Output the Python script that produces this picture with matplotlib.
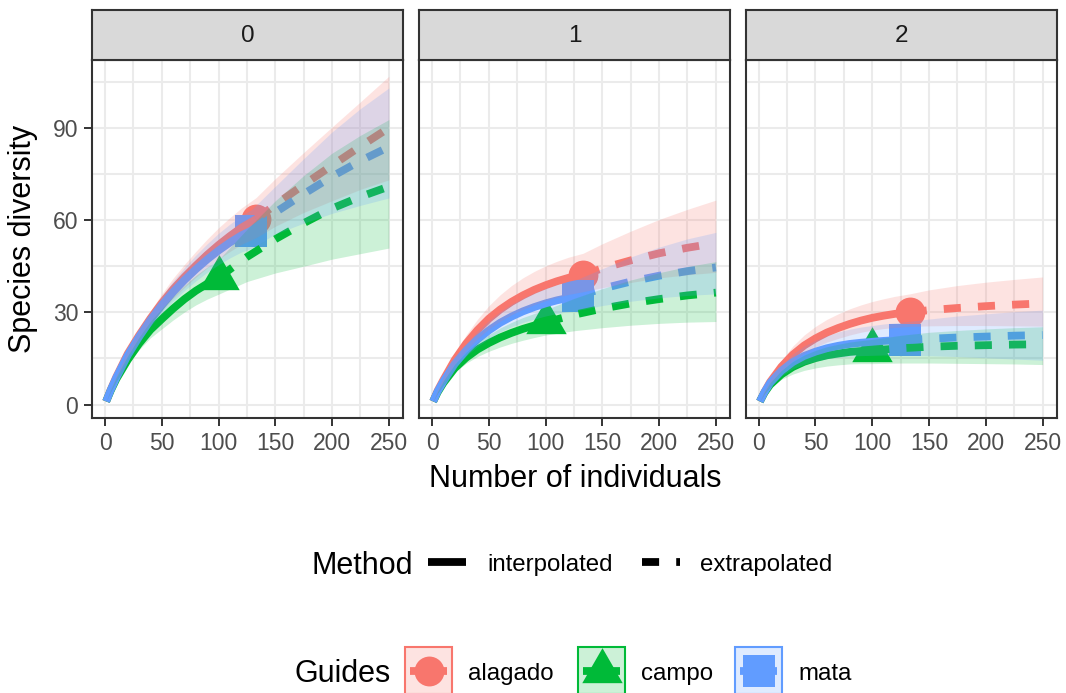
import matplotlib.pyplot as plt
from matplotlib.lines import Line2D
from matplotlib.patches import Rectangle

plt.rcParams['font.family'] = ['Liberation Sans', 'DejaVu Sans']

# ---------------------------------------------------------
# data (sample size m, diversity, 95% band)
# ---------------------------------------------------------

sites = ['alagado', 'campo', 'mata']
orders = ['0', '1', '2']

alagado_n = 133
campo_n = 100
mata_n = 129

alagado_m = [1, 5, 10, 20, 30, 40, 50, 60, 70, 80, 90, 100, 110, 120, 133, 150, 175, 200, 225, 250]
mata_m = [1, 5, 10, 20, 30, 40, 50, 60, 70, 80, 90, 100, 110, 120, 129, 150, 175, 200, 225, 250]
campo_m = [1, 5, 10, 20, 30, 40, 50, 60, 70, 80, 90, 100, 125, 150, 175, 200, 225, 250]

# order q = 0
alagado_q0 = [1, 4.8, 9, 16.5, 22.5, 28, 33, 37.5, 41.5, 45.2, 48.7, 51.9, 54.8, 57.5, 60.3, 65, 71.5, 77.8, 84, 90]
alagado_q0_lo = [1, 4.6, 8.5, 15.5, 21, 26, 30.5, 34.5, 38.1, 41.4, 44.5, 47.3, 49.8, 52.1, 54.3, 58, 62.5, 66.3, 70, 73.1]
alagado_q0_hi = [1, 5, 9.5, 17.7, 24.3, 30.4, 36, 41.1, 45.6, 49.8, 53.8, 57.5, 60.8, 63.9, 67.3, 73.5, 82, 90.3, 98.5, 106.8]
mata_q0 = [1, 4.7, 8.8, 16, 22, 27.5, 32.3, 36.6, 40.5, 44, 47.2, 50.1, 52.7, 55, 56.6, 62.5, 68.5, 74.2, 79.3, 83.8]
mata_q0_lo = [1, 4.5, 8.3, 15, 20.5, 25.5, 29.8, 33.6, 37.1, 40.2, 43, 45.5, 47.7, 49.6, 50.8, 55.5, 59, 62.2, 64.8, 67.2]
mata_q0_hi = [1, 4.9, 9.3, 17.2, 23.8, 29.9, 35.3, 40.2, 44.6, 48.6, 52.3, 55.7, 58.7, 61.4, 63.4, 71, 80, 88.7, 96.3, 103]
campo_q0 = [1, 4.5, 8.3, 14.5, 19.8, 24.3, 27.8, 31.2, 34.3, 37, 39.3, 41.3, 48, 53.8, 59, 63.8, 67.6, 70.9]
campo_q0_lo = [1, 4.2, 7.6, 13.2, 17.8, 21.7, 24.6, 27.5, 30.1, 32.4, 34.3, 35.9, 40, 42.8, 45, 47.3, 49.1, 50.9]
campo_q0_hi = [1, 4.8, 9, 15.9, 21.9, 27.1, 31.2, 35.2, 38.8, 42, 44.7, 47.1, 57, 66.3, 74.5, 81.8, 87.6, 92.7]

# order q = 1
alagado_q1 = [1, 4.5, 8, 14.5, 19.8, 24.2, 27.9, 30.9, 33.4, 35.5, 37.3, 38.8, 40.1, 41.2, 42.2, 44.3, 46.9, 49.2, 51.0, 52.5]
alagado_q1_lo = [1, 4.1, 7.2, 13, 17.6, 21.4, 24.6, 27.1, 29.2, 31, 32.5, 33.8, 34.9, 35.8, 36.7, 38, 39.7, 41.2, 42.2, 43]
alagado_q1_hi = [1, 5, 9, 16.5, 22.6, 27.7, 32.1, 35.7, 38.7, 41.2, 43.3, 45.1, 46.6, 47.9, 49.2, 52.3, 56.4, 60.2, 63.5, 66.5]
mata_q1 = [1, 4.3, 7.5, 13.2, 17.6, 21.2, 24.1, 26.6, 28.6, 30.3, 31.7, 32.9, 33.9, 34.7, 35.4, 37.7, 40, 41.9, 43.4, 44.6]
mata_q1_lo = [1, 4, 6.8, 11.9, 15.8, 18.9, 21.4, 23.6, 25.3, 26.7, 27.8, 28.8, 29.6, 30.2, 30.7, 32.2, 33.6, 34.7, 35.5, 36]
mata_q1_hi = [1, 4.7, 8.3, 14.7, 19.7, 23.9, 27.3, 30.2, 32.6, 34.6, 36.3, 37.8, 39, 40, 40.9, 44.2, 48, 51.2, 53.9, 56]
campo_q1 = [1, 4, 7, 11.8, 15.2, 17.9, 20, 21.8, 23.3, 24.6, 25.7, 26.7, 29.2, 31.2, 32.9, 34.3, 35.5, 36.4]
campo_q1_lo = [1, 3.7, 6.3, 10.5, 13.4, 15.6, 17.3, 18.7, 19.9, 20.9, 21.8, 22.6, 24, 25, 25.8, 26.4, 26.8, 27]
campo_q1_hi = [1, 4.3, 7.7, 13.1, 17, 20.2, 22.7, 24.9, 26.7, 28.3, 29.6, 30.8, 34.5, 37.7, 40.5, 42.9, 44.9, 46.5]

# order q = 2
alagado_q2 = [1, 4, 7.3, 12.3, 16.2, 19.2, 21.5, 23.4, 24.9, 26.2, 27.3, 28.2, 28.9, 29.5, 30.0, 30.7, 31.4, 32.0, 32.5, 32.9]
alagado_q2_lo = [1, 3.6, 6.5, 10.8, 14.2, 16.8, 18.7, 20.3, 21.5, 22.6, 23.5, 24.2, 24.7, 25.1, 25.4, 25.6, 25.7, 25.7, 25.6, 25.5]
alagado_q2_hi = [1, 4.5, 8.3, 14.3, 19, 22.6, 25.4, 27.7, 29.5, 31.1, 32.4, 33.5, 34.4, 35.2, 36, 37.3, 38.7, 39.8, 40.7, 41.5]
mata_q2 = [1, 4, 7, 11, 13.8, 15.8, 17.2, 18.3, 19.1, 19.7, 20.1, 20.4, 20.7, 20.9, 21.0, 21.4, 21.8, 22.1, 22.4, 22.6]
mata_q2_lo = [1, 3.6, 6.1, 9.4, 11.6, 13.1, 14.1, 14.9, 15.4, 15.7, 15.9, 16, 16.1, 16.1, 16, 15.9, 15.6, 15.2, 14.8, 14.4]
mata_q2_hi = [1, 4.4, 7.9, 12.8, 16.4, 19, 20.9, 22.4, 23.6, 24.5, 25.2, 25.7, 26.2, 26.6, 26.9, 27.8, 28.8, 29.5, 30.2, 30.7]
campo_q2 = [1, 3.8, 6.4, 9.8, 12.2, 13.9, 15.1, 16, 16.6, 17.1, 17.4, 17.6, 18.3, 18.8, 19.1, 19.3, 19.5, 19.6]
campo_q2_lo = [1, 3.5, 5.6, 8.2, 9.9, 11.1, 11.9, 12.5, 12.9, 13.2, 13.3, 13.3, 13.5, 13.5, 13.4, 13.3, 13.2, 13.0]
campo_q2_hi = [1, 4.1, 7.1, 11.1, 14, 16.1, 17.6, 18.8, 19.6, 20.3, 20.8, 21.2, 22.5, 23.5, 24.1, 24.6, 25, 25.3]

x_ticks = [0, 50, 100, 150, 200, 250]
y_ticks = [0, 30, 60, 90]

# ---------------------------------------------------------
# lookup tables
# ---------------------------------------------------------

size_m = {'alagado': alagado_m, 'campo': campo_m, 'mata': mata_m}
n_obs = {'alagado': alagado_n, 'campo': campo_n, 'mata': mata_n}
est = {'alagado': [alagado_q0, alagado_q1, alagado_q2],
       'campo': [campo_q0, campo_q1, campo_q2],
       'mata': [mata_q0, mata_q1, mata_q2]}
lo = {'alagado': [alagado_q0_lo, alagado_q1_lo, alagado_q2_lo],
      'campo': [campo_q0_lo, campo_q1_lo, campo_q2_lo],
      'mata': [mata_q0_lo, mata_q1_lo, mata_q2_lo]}
hi = {'alagado': [alagado_q0_hi, alagado_q1_hi, alagado_q2_hi],
      'campo': [campo_q0_hi, campo_q1_hi, campo_q2_hi],
      'mata': [mata_q0_hi, mata_q1_hi, mata_q2_hi]}

colors = {'alagado': '#F8766D', 'campo': '#00BA38', 'mata': '#619CFF'}
tri = [(0, 1.555), (1.347, -0.778), (-1.347, -0.778), (0, 1.555)]
marks = {'alagado': ('o', 21.5), 'campo': (tri, 33.6), 'mata': ('s', 23)}

LW = 5.6
DASH = (0, (2.2, 2.2))
GRID = '#EBEBEB'
DARK = '#333333'

# ---------------------------------------------------------
# figure, in pixel coordinates of the reference
# ---------------------------------------------------------

W, H = 1066, 693
fig = plt.figure(figsize=(W / 100, H / 100), dpi=100)


def fx(px):
    return px / W


def fy(py):
    return 1 - py / H


panel_left = [92, 419, 745.7]
panel_w = 311
panel_top, panel_bot = 60, 417.7

for k, q in enumerate(orders):
    ax = fig.add_axes([fx(panel_left[k]), fy(panel_bot), panel_w / W, (panel_bot - panel_top) / H])

    for s in sites:
        m = size_m[s]
        i = m.index(n_obs[s])
        ax.plot(m[i], est[s][k][i], ls='none', marker=marks[s][0], ms=marks[s][1],
                color=colors[s], mew=0, zorder=3)

    for s in sites:
        m = size_m[s]
        i = m.index(n_obs[s])
        ax.plot(m[:i + 1], est[s][k][:i + 1], color=colors[s], lw=LW,
                solid_capstyle='butt', solid_joinstyle='round', zorder=4)
        ax.plot(m[i:], est[s][k][i:], color=colors[s], lw=LW, ls=DASH,
                dash_capstyle='butt', zorder=4)

    for s in sites:
        ax.fill_between(size_m[s], lo[s][k], hi[s][k], color=colors[s], alpha=0.2,
                        lw=0, zorder=5)

    ax.set_xlim(-11.45, 262.45)
    ax.set_ylim(-4.29, 112.09)
    ax.set_xticks(x_ticks)
    ax.set_xticks([25, 75, 125, 175, 225], minor=True)
    ax.set_yticks(y_ticks)
    ax.set_yticks([15, 45, 75, 105], minor=True)
    ax.grid(True, which='both', color=GRID, lw=1.5)
    ax.set_axisbelow(True)
    ax.tick_params(which='minor', length=0)
    ax.tick_params(which='major', length=5.5, width=1.4, color=DARK, labelsize=16.5,
                   labelcolor='#4D4D4D', pad=4.5)
    if k > 0:
        ax.tick_params(axis='y', left=False, labelleft=False)
    for sp in ax.spines.values():
        sp.set_color(DARK)
        sp.set_linewidth(1.5)
        sp.set_zorder(6)

    # facet strip
    sax = fig.add_axes([fx(panel_left[k]), fy(panel_top), panel_w / W, 50 / H])
    sax.set_facecolor('#D9D9D9')
    sax.set_xticks([])
    sax.set_yticks([])
    for sp in sax.spines.values():
        sp.set_color(DARK)
        sp.set_linewidth(1.5)
    sax.text(0.5, 0.48, q, ha='center', va='center', fontsize=17.5, color='#1A1A1A',
             transform=sax.transAxes)

# axis titles
fig.text(fx(575), fy(487), 'Number of individuals', ha='center', va='baseline', fontsize=22)
fig.text(fx(23.5), fy(239), 'Species diversity', ha='center', va='center',
         rotation=90, fontsize=22)

# ---------------------------------------------------------
# legend: Method
# ---------------------------------------------------------

fig.text(fx(311), fy(573.5), 'Method', ha='left', va='baseline', fontsize=22)
fig.add_artist(Line2D([fx(428), fx(466)], [fy(562), fy(562)], color='black', lw=LW,
                      solid_capstyle='butt'))
fig.text(fx(487), fy(570.8), 'interpolated', ha='left', va='baseline', fontsize=17.3)
fig.add_artist(Line2D([fx(642), fx(679.5)], [fy(562), fy(562)], color='black', lw=LW,
                      ls=DASH, dash_capstyle='butt'))
fig.text(fx(700), fy(570.8), 'extrapolated', ha='left', va='baseline', fontsize=17.3)

# ---------------------------------------------------------
# legend: Guides
# ---------------------------------------------------------

fig.text(fx(295), fy(681.7), 'Guides', ha='left', va='baseline', fontsize=22)
key_left = [405, 578, 735]
label_left = [468, 641, 798]
key = 47
for s, kl, tl in zip(sites, key_left, label_left):
    cx, cy = kl + key / 2, 647 + key / 2
    fig.add_artist(Line2D([fx(cx)], [fy(cy)], ls='none', marker=marks[s][0],
                          ms=marks[s][1], color=colors[s], mew=0))
    fig.add_artist(Line2D([fx(kl + 0.1 * key), fx(kl + 0.9 * key)], [fy(cy), fy(cy)],
                          color=colors[s], lw=LW, solid_capstyle='butt'))
    fig.add_artist(Rectangle((fx(kl), fy(647 + key)), key / W, key / H,
                             facecolor=colors[s], alpha=0.2, lw=0))
    fig.add_artist(Rectangle((fx(kl), fy(647 + key)), key / W, key / H,
                             facecolor='none', edgecolor=colors[s], lw=1.5))
    fig.text(fx(tl), fy(680), s, ha='left', va='baseline', fontsize=17.3)

fig.savefig('out.png', dpi=100)
